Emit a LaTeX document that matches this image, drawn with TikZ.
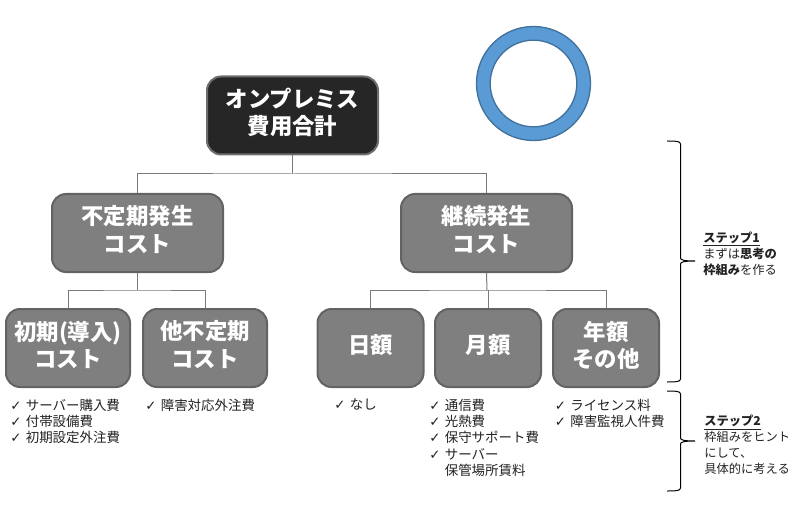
\documentclass[tikz,border=0pt]{standalone}
\usepackage{fontspec}
\setmainfont{Noto Sans CJK JP}
\newfontfamily\symfont{DejaVu Sans}
\definecolor{ringblue}{HTML}{5B9BD5}
\definecolor{ringedge}{HTML}{41719C}
\definecolor{costgray}{HTML}{7F7F7F}
\definecolor{costedge}{HTML}{636363}
\definecolor{topfill}{HTML}{262626}
\definecolor{topedge}{HTML}{6E6E6E}
\definecolor{inktext}{HTML}{222222}
\definecolor{linkgray}{HTML}{7A7A7A}
\newcommand{\ck}{\makebox[10.9pt][l]{\hspace*{-0.7pt}\symfont\fontsize{10}{10}\selectfont ✓}}
\newcommand{\stepbrace}[3]{\draw[bracel] (667,#1) .. controls (675,#1) and (680.5,#1) .. (680.5,#1+3) -- (680.5,#2-3) .. controls (680.5,#2-1) and (684,#2) .. (695,#2) (680.5,#2+3) .. controls (680.5,#2+1) and (684,#2) .. (695,#2) (680.5,#2+3) -- (680.5,#3-3) .. controls (680.5,#3) and (675,#3) .. (667,#3);}
\begin{document}
\begin{tikzpicture}[x=0.75pt,y=-0.75pt,
  costbox/.style={draw=costedge,fill=costgray,line width=1.5pt,rounded corners=10.5pt,text=white,align=center,font=\fontsize{16.8}{20.4}\selectfont\bfseries,inner sep=0pt,minimum height=58.5pt,execute at end node={\rule[-6pt]{0pt}{0pt}}},
  bigbox/.style={costbox,minimum width=128.25pt},
  smallbox/.style={costbox,minimum width=93pt},
  shortbox/.style={costbox,minimum width=79.5pt},
  topbox/.style={bigbox,draw=topedge,fill=topfill},
  link/.style={draw=linkgray,line width=0.75pt},
  bracel/.style={draw=black,line width=0.75pt},
  listtext/.style={anchor=north west,inner sep=0pt,align=left,text=inktext,font=\fontsize{10.1}{12.25}\selectfont},
  stepnote/.style={anchor=north west,inner sep=0pt,align=left,text=inktext,font=\fontsize{9.2}{12}\selectfont}]
\useasboundingbox (0,0) rectangle (800,506);

\node[draw=ringedge,fill=ringblue,line width=1pt,circle,minimum size=85.5pt,inner sep=0pt] (ringout) at (533.5,83.5){};
\node[draw=ringedge,fill=white,line width=1pt,circle,minimum size=65pt,inner sep=0pt] (ringin) at (533.5,83.5){};

\node[topbox] (total) at (292.5,115.5){オンプレミス\\費用合計};
\node[bigbox] (irregular) at (137.5,233){不定期発生\\コスト};
\node[bigbox] (regular) at (486.5,233){継続発生\\コスト};

\foreach \n/\x/\t in {initial/68/初期(導入)\\コスト,others/205/他不定期\\コスト}{ \node[smallbox] (\n) at (\x,348){\t};}
\foreach \n/\x/\t in {daily/370.5/日額,monthly/488/月額,yearly/606/年額\\その他}{ \node[shortbox] (\n) at (\x,348){\t};}

\coordinate (bustop) at (292.5,174);
\coordinate (busleft) at (137.5,290);
\coordinate (busright) at (487,290);
\draw[link] (total.south) -- (bustop);
\draw[link] (irregular.north) |- (bustop) -| (regular.north);
\draw[link] (irregular.south) -- (busleft);
\draw[link] (initial.north) |- (busleft) -| (others.north);
\draw[link] (regular.south) -- (busright);
\draw[link] (daily.north) |- (busright) -| (yearly.north);
\draw[link] (monthly.north) -- (monthly.north |- busright);

\node[listtext] (listinitial) at (11,398.5){\ck サーバー購入費\\\ck 付帯設備費\\\ck 初期設定外注費};
\node[listtext] (listothers) at (146,398.5){\ck 障害対応外注費};
\node[listtext] (listdaily) at (335,398.5){\ck なし};
\node[listtext] (listmonthly) at (430,398.5){\ck 通信費\\\ck 光熱費\\\ck 保守サポート費\\\ck サーバー\\\hspace*{10.9pt}保管場所賃料};
\node[listtext] (listyearly) at (555.5,398.5){\ck ライセンス料\\\ck 障害監視人件費};

\stepbrace{141}{261}{382}
\stepbrace{391}{441}{491}

\node[stepnote] (stepone) at (703,231.5){\textbf{\underline{ステップ1}}\\まずは\textbf{思考の}\\\textbf{枠組み}を作る};
\node[stepnote] (steptwo) at (704,415){\textbf{\underline{ステップ2}}\\枠組みをヒント\\にして、\\具体的に考える};
\end{tikzpicture}
\end{document}
